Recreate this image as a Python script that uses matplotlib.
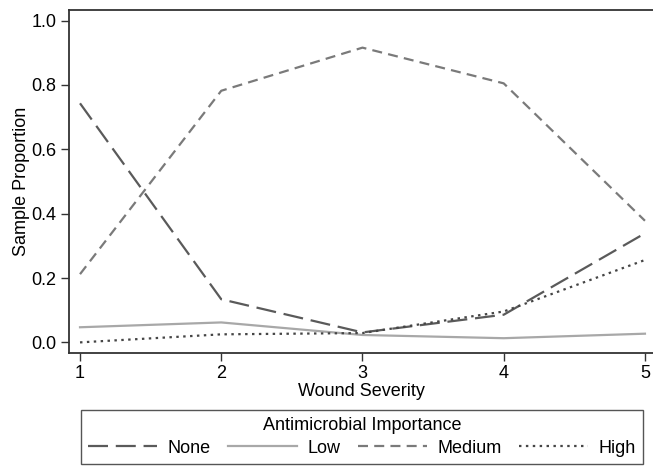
import matplotlib
matplotlib.use("Agg")
import matplotlib.pyplot as plt

plt.rcParams['font.family'] = ['Liberation Sans', 'DejaVu Sans']

severity = [1, 2, 3, 4, 5]
none_vals = [0.743, 0.134, 0.031, 0.086, 0.339]
low_vals = [0.047, 0.062, 0.023, 0.013, 0.027]
medium_vals = [0.212, 0.782, 0.916, 0.805, 0.378]
high_vals = [0.0, 0.025, 0.029, 0.096, 0.256]
yticks = [0.0, 0.2, 0.4, 0.6, 0.8, 1.0]
ytick_labels = ["0.0", "0.2", "0.4", "0.6", "0.8", "1.0"]

fs = 13
fig = plt.figure(figsize=(6.53, 4.66), dpi=100)
ax = fig.add_axes([69/653, (466-353)/466, 1 - 69/653, (353-10)/466])

l1, = ax.plot(severity, none_vals, color='#5a5a5a', lw=1.6, dashes=(9, 3.5), label='None')
l2, = ax.plot(severity, low_vals, color='#a8a8a8', lw=1.6, label='Low')
l3, = ax.plot(severity, medium_vals, color='#7a7a7a', lw=1.6, dashes=(4.5, 2.8), label='Medium')
l4, = ax.plot(severity, high_vals, color='#454545', lw=1.6, dashes=(1.1, 2.0), label='High')

ax.set_xlim(0.922, 5.057)
ax.set_ylim(-0.033, 1.033)
ax.set_xticks(severity)
ax.set_xticklabels([str(s) for s in severity], fontsize=fs)
ax.set_yticks(yticks)
ax.set_yticklabels(ytick_labels, fontsize=fs)
ax.spines['right'].set_visible(False)
for s in ['left', 'bottom', 'top']:
    ax.spines[s].set_color('#333333')
    ax.spines[s].set_linewidth(1.3)
ax.tick_params(direction='out', length=6, width=1, color='#333333', pad=3)
ax.set_xlabel('Wound Severity', fontsize=fs, labelpad=0)
ax.set_ylabel('Sample Proportion', fontsize=fs, labelpad=1)

leg = fig.legend(handles=[l1, l2, l3, l4], loc='upper left',
                 bbox_to_anchor=(81/653, (466-472)/466, (643-81)/653, 62/466),
                 mode='expand', ncol=4, fontsize=fs, title='Antimicrobial Importance',
                 title_fontsize=fs, handlelength=3.8, handletextpad=0.6,
                 columnspacing=1.5, borderaxespad=0, fancybox=False,
                 edgecolor='#555555', framealpha=1, borderpad=0.4, labelspacing=0.3)
leg.get_frame().set_linewidth(1.0)

fig.savefig('out.png', dpi=100)
